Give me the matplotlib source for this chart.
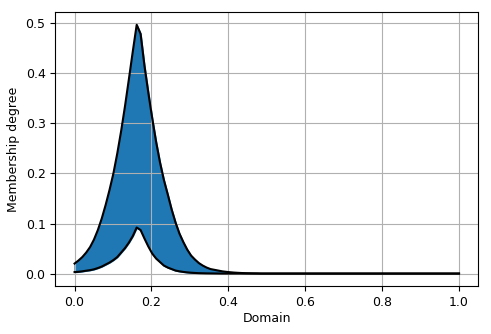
import numpy as np
import matplotlib
matplotlib.use("Agg")
import matplotlib.pyplot as plt

# Domain sampled at 100 points between 0 and 1
domain = np.linspace(0.0, 1.0, 100)

# Upper membership function, remaining points are 0
upper_head = [0.020, 0.026, 0.033, 0.042, 0.053, 0.068, 0.087, 0.110, 0.137, 0.167,
              0.200, 0.240, 0.285, 0.335, 0.389, 0.444, 0.497, 0.479, 0.415, 0.361,
              0.310, 0.263, 0.222, 0.187, 0.158, 0.128, 0.102, 0.080, 0.063, 0.048,
              0.036, 0.028, 0.021, 0.016, 0.012, 0.009, 0.0075, 0.006, 0.0045, 0.0035,
              0.0027, 0.002, 0.0015, 0.0011, 0.0008, 0.0006, 0.0004, 0.0003]
upper = np.array(upper_head + [0.0] * (100 - len(upper_head)))

# Lower membership function, remaining points are 0
lower_head = [0.003, 0.0035, 0.0045, 0.0057, 0.0068, 0.0085, 0.011, 0.014, 0.018, 0.022,
              0.027, 0.033, 0.042, 0.051, 0.062, 0.075, 0.092, 0.087, 0.070, 0.054,
              0.040, 0.030, 0.023, 0.016, 0.012, 0.009, 0.006, 0.0045, 0.0033, 0.0024,
              0.0017, 0.0012, 0.0008, 0.0006, 0.0004, 0.0003, 0.0002, 0.0001]
lower = np.array(lower_head + [0.0] * (100 - len(lower_head)))

fig = plt.figure(figsize=(4.91, 3.34), dpi=100)
ax = fig.add_axes([0.1127, 0.1437, 0.974 - 0.1127, 0.963 - 0.1437])

ax.fill_between(domain, lower, upper, color="#1f77b4")
ax.plot(domain, upper, color="black", linewidth=1.5)
ax.plot(domain, lower, color="black", linewidth=1.5)

ax.grid(True)
ax.set_xlabel("Domain", fontsize=9, labelpad=2)
ax.set_ylabel("Membership degree", fontsize=9, labelpad=4)
ax.tick_params(labelsize=9)

fig.savefig("out.png", dpi=100)
